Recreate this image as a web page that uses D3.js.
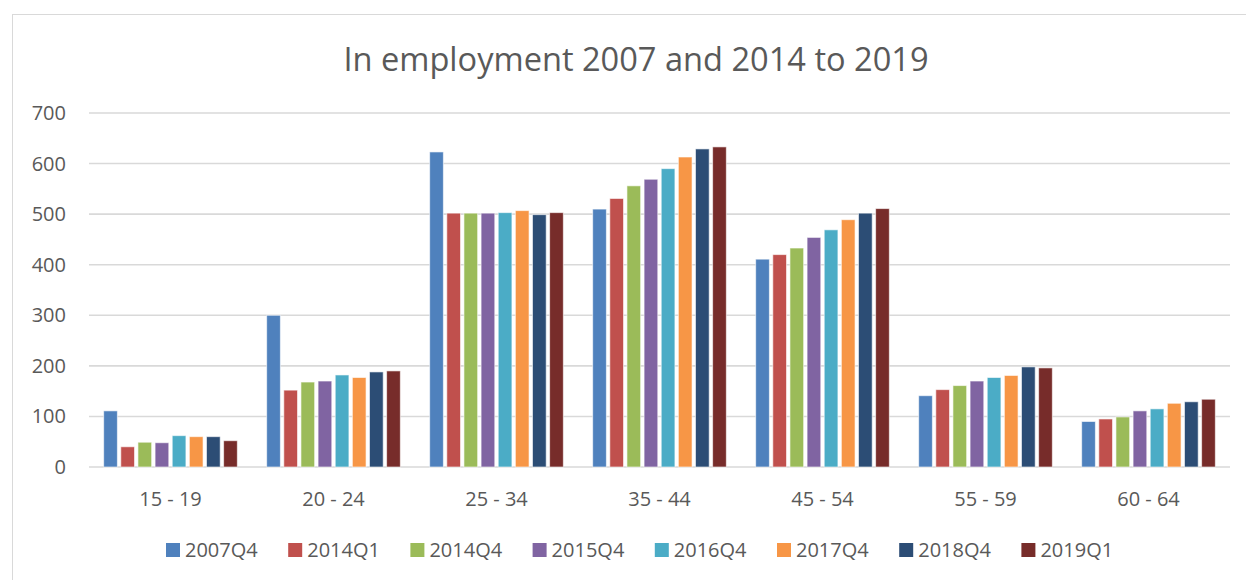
<!DOCTYPE html>
<html>
<head>
<meta charset="utf-8">
<script src="https://cdn.jsdelivr.net/npm/d3@7"></script>
<style>
  body { margin: 0; background: #fff; }
  svg { display: block; }
</style>
</head>
<body>
<svg id="chart" width="1246" height="580"></svg>
<script>
const categories = ["15 - 19", "20 - 24", "25 - 34", "35 - 44", "45 - 54", "55 - 59", "60 - 64"];
const seriesNames = ["2007Q4", "2014Q1", "2014Q4", "2015Q4", "2016Q4", "2017Q4", "2018Q4", "2019Q1"];
const colors = ["#4F81BD", "#C0504D", "#9BBB59", "#8064A2", "#4BACC6", "#F79646", "#2C4D75", "#772C2A"];
// one array per series, values in category order
const s2007Q4 = [111, 300, 623, 510, 411, 141, 90];
const s2014Q1 = [40, 152, 502, 531, 420, 153, 95];
const s2014Q4 = [49, 168, 502, 556, 433, 161, 99];
const s2015Q4 = [48, 170, 502, 569, 454, 170, 111];
const s2016Q4 = [62, 182, 503, 590, 469, 177, 115];
const s2017Q4 = [60, 177, 507, 613, 489, 181, 126];
const s2018Q4 = [60, 188, 499, 629, 502, 198, 129];
const s2019Q1 = [52, 190, 503, 633, 511, 196, 134];
const yTicks = [0, 100, 200, 300, 400, 500, 600, 700];

const values = [s2007Q4, s2014Q1, s2014Q4, s2015Q4, s2016Q4, s2017Q4, s2018Q4, s2019Q1];
const font = "'Open Sans', sans-serif";
const textColor = "#595959";

const svg = d3.select("#chart");
const plot = { left: 89, right: 1230, top: 113, bottom: 467 };

// chart border
svg.append("rect")
  .attr("x", 12.5).attr("y", 14.5)
  .attr("width", 1300).attr("height", 700)
  .attr("fill", "none").attr("stroke", "#d9d9d9");

svg.append("text")
  .text("In employment 2007 and 2014 to 2019")
  .attr("x", 636).attr("y", 71)
  .attr("text-anchor", "middle")
  .style("font-family", font).style("font-size", "32.6px")
  .attr("fill", textColor);

const y = d3.scaleLinear().domain([0, 700]).range([plot.bottom, plot.top]);
const x0 = d3.scaleBand().domain(categories).range([plot.left, plot.right])
  .paddingInner(0.18).paddingOuter(0.09);
const x1 = d3.scaleBand().domain(seriesNames).range([0, x0.bandwidth()])
  .paddingInner(0.2).paddingOuter(0);

// gridlines
svg.append("g")
  .selectAll(null)
  .data(yTicks)
  .enter()
  .append("line")
  .attr("x1", plot.left).attr("x2", plot.right)
  .attr("y1", (d) => y(d)).attr("y2", (d) => y(d))
  .attr("stroke", "#d9d9d9")
  .style("stroke-width", "1.6px");

// y labels
svg.append("g")
  .selectAll(null)
  .data(yTicks)
  .enter()
  .append("text")
  .text((d) => d)
  .attr("x", 66)
  .attr("y", (d) => y(d) + 7)
  .attr("text-anchor", "end")
  .style("font-family", font).style("font-size", "20px")
  .attr("fill", textColor);

// bars
const groups = svg.append("g")
  .selectAll(null)
  .data(categories)
  .enter()
  .append("g")
  .attr("transform", (d) => `translate(${x0(d)},0)`);

groups.selectAll(null)
  .data((d, i) => seriesNames.map((s, k) => ({ s: s, k: k, v: values[k][i] })))
  .enter()
  .append("rect")
  .attr("x", (d) => x1(d.s))
  .attr("y", (d) => y(d.v))
  .attr("width", x1.bandwidth())
  .attr("height", (d) => y(0) - y(d.v))
  .attr("fill", (d) => colors[d.k])
  .attr("stroke", "#ffffff")
  .attr("stroke-opacity", 0.6)
  .style("stroke-width", "1px");

// x labels
svg.append("g")
  .selectAll(null)
  .data(categories)
  .enter()
  .append("text")
  .text((d) => d)
  .attr("x", (d) => x0(d) + x0.bandwidth() / 2)
  .attr("y", 506)
  .attr("text-anchor", "middle")
  .style("font-family", font).style("font-size", "20px")
  .attr("fill", textColor);

// legend
const legend = svg.append("g")
  .selectAll(null)
  .data(seriesNames)
  .enter()
  .append("g")
  .attr("transform", (d, i) => `translate(${166 + i * 122.2},543)`);

legend.append("rect")
  .attr("width", 14).attr("height", 14)
  .attr("fill", (d, i) => colors[i]);

legend.append("text")
  .text((d) => d)
  .attr("x", 19).attr("y", 14)
  .style("font-family", font).style("font-size", "20px")
  .attr("fill", textColor);
</script>
</body>
</html>
